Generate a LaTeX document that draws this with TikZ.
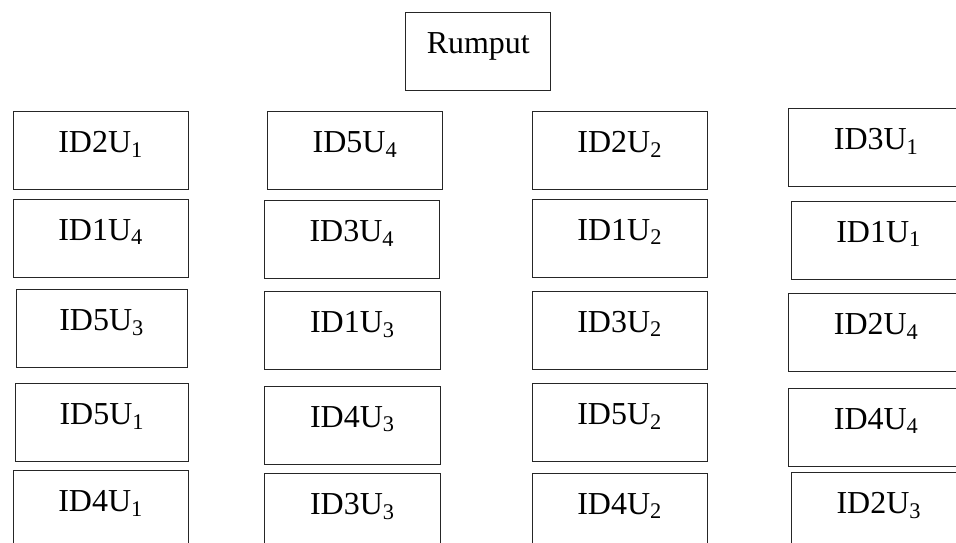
\documentclass[tikz,border=0pt]{standalone}
\usepackage{fontspec}
\setmainfont{Liberation Serif}
\tikzset{
    kotak/.style={draw=black!85, line width=0.6pt, rectangle, anchor=north west,
        minimum height=1.56cm, inner sep=0pt,
        text height=0.5cm, text depth=0.42cm,
        font=\fontsize{18.2}{22}\selectfont}
}
\begin{document}
\begin{tikzpicture}[x=0.02cm,y=-0.02cm]
    % Cadre de l'image
    \clip (0,0) rectangle (956,542);

    % Titre
    \node[kotak, minimum width=2.9cm] (rumput) at (405.3,11.7) {Rumput};

    % Colonne 1
    \foreach \nm/\x/\y/\w/\lbl in {
        k11/12.7/111/175/ID2U\textsubscript{1},
        k12/12.7/198.7/175/ID1U\textsubscript{4},
        k13/15.7/289.3/171/ID5U\textsubscript{3},
        k14/15.3/383/172.4/ID5U\textsubscript{1},
        k15/12.7/470/175/ID4U\textsubscript{1}} {
        \node[kotak, minimum width=\w*0.02cm] (\nm) at (\x,\y) {\lbl};
    }

    % Colonne 2
    \foreach \nm/\x/\y/\w/\lbl in {
        k21/267.3/111/174.7/ID5U\textsubscript{4},
        k22/264/200.3/175/ID3U\textsubscript{4},
        k23/264.3/291/175.4/ID1U\textsubscript{3},
        k24/264.3/385.7/175.4/ID4U\textsubscript{3},
        k25/264.3/473/175.4/ID3U\textsubscript{3}} {
        \node[kotak, minimum width=\w*0.02cm] (\nm) at (\x,\y) {\lbl};
    }

    % Colonne 3
    \foreach \nm/\x/\y/\w/\lbl in {
        k31/532/111/174.7/ID2U\textsubscript{2},
        k32/532/198.7/174.7/ID1U\textsubscript{2},
        k33/531.7/290.7/175/ID3U\textsubscript{2},
        k34/531.7/383/175/ID5U\textsubscript{2},
        k35/531.7/472.7/175/ID4U\textsubscript{2}} {
        \node[kotak, minimum width=\w*0.02cm] (\nm) at (\x,\y) {\lbl};
    }

    % Colonne 4
    \foreach \nm/\x/\y/\w/\lbl in {
        k41/788.3/108.3/175/ID3U\textsubscript{1},
        k42/790.7/200.7/175/ID1U\textsubscript{1},
        k43/788.3/293.3/175/ID2U\textsubscript{4},
        k44/788.3/387.7/175/ID4U\textsubscript{4},
        k45/791/472.3/175/ID2U\textsubscript{3}} {
        \node[kotak, minimum width=\w*0.02cm] (\nm) at (\x,\y) {\lbl};
    }
\end{tikzpicture}
\end{document}
